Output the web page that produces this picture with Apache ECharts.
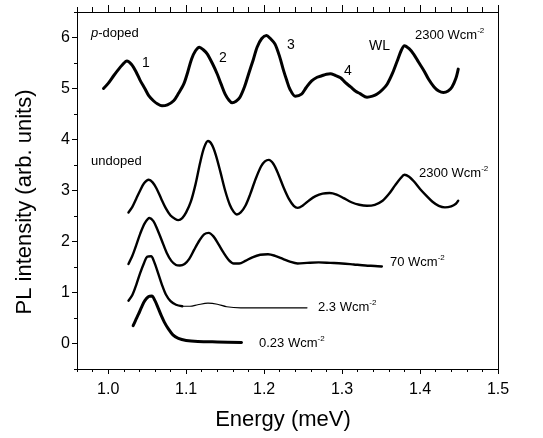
<!DOCTYPE html>
<html><head><meta charset="utf-8">
<script src="https://cdn.jsdelivr.net/npm/echarts@6/dist/echarts.min.js"></script>
<style>html,body{margin:0;padding:0;background:#fff}#c{width:543px;height:438px}</style>
</head><body><div id="c"></div>
<script>
// ---- data ----
const xTicks = [1.0, 1.1, 1.2, 1.3, 1.4, 1.5];
const yTicks = [0, 1, 2, 3, 4, 5, 6];

const pDoped = [
[0.994,5.00],[1.000,5.10],[1.007,5.25],[1.013,5.37],[1.018,5.46],[1.024,5.54],[1.030,5.47],[1.036,5.32],
[1.041,5.16],[1.047,5.00],[1.052,4.86],[1.058,4.76],[1.063,4.70],[1.069,4.66],[1.076,4.68],[1.084,4.76],
[1.090,4.90],[1.097,5.09],[1.102,5.32],[1.107,5.58],[1.112,5.74],[1.117,5.81],[1.122,5.76],[1.127,5.68],
[1.134,5.48],[1.140,5.28],[1.145,5.08],[1.150,4.89],[1.155,4.77],[1.159,4.72],[1.164,4.75],[1.169,4.83],
[1.175,5.04],[1.180,5.28],[1.186,5.56],[1.191,5.81],[1.197,5.98],[1.203,6.04],[1.208,5.98],[1.214,5.87],
[1.220,5.62],[1.225,5.35],[1.229,5.16],[1.233,4.99],[1.240,4.85],[1.248,4.89],[1.254,5.02],[1.261,5.15],
[1.268,5.22],[1.274,5.25],[1.280,5.28],[1.285,5.29],[1.291,5.26],[1.298,5.21],[1.304,5.12],[1.311,5.03],
[1.317,4.95],[1.323,4.90],[1.332,4.83],[1.339,4.85],[1.345,4.89],[1.352,4.98],[1.358,5.09],[1.365,5.31],
[1.371,5.55],[1.376,5.75],[1.380,5.84],[1.386,5.78],[1.392,5.67],[1.398,5.52],[1.405,5.35],[1.411,5.18],
[1.418,5.03],[1.424,4.95],[1.430,4.92],[1.436,4.95],[1.441,5.03],[1.446,5.20],[1.449,5.38]
];
const undoped2300 = [
[1.026,2.57],[1.031,2.68],[1.036,2.84],[1.041,3.00],[1.046,3.14],[1.052,3.21],[1.057,3.16],[1.062,3.04],
[1.068,2.84],[1.074,2.65],[1.080,2.51],[1.086,2.44],[1.090,2.42],[1.095,2.46],[1.100,2.57],[1.106,2.78],
[1.112,3.12],[1.118,3.55],[1.123,3.84],[1.128,3.97],[1.133,3.90],[1.138,3.70],[1.144,3.36],[1.150,3.00],
[1.156,2.72],[1.161,2.58],[1.165,2.53],[1.170,2.57],[1.176,2.70],[1.182,2.92],[1.189,3.22],[1.196,3.47],
[1.201,3.57],[1.206,3.60],[1.212,3.52],[1.218,3.33],[1.225,3.06],[1.232,2.83],[1.238,2.70],[1.243,2.66],
[1.250,2.71],[1.258,2.81],[1.266,2.89],[1.275,2.94],[1.284,2.95],[1.293,2.92],[1.302,2.85],[1.312,2.77],
[1.322,2.72],[1.332,2.70],[1.342,2.72],[1.352,2.80],[1.360,2.93],[1.368,3.10],[1.375,3.24],[1.380,3.31],
[1.386,3.27],[1.392,3.18],[1.400,3.03],[1.408,2.90],[1.416,2.78],[1.424,2.70],[1.432,2.67],[1.440,2.69],
[1.446,2.74],[1.449,2.80]
];
const undoped70 = [
[1.026,1.56],[1.031,1.72],[1.036,1.93],[1.041,2.15],[1.047,2.36],[1.053,2.46],[1.058,2.40],[1.063,2.24],
[1.069,2.01],[1.075,1.78],[1.081,1.62],[1.087,1.54],[1.092,1.53],[1.098,1.56],[1.104,1.66],[1.110,1.83],
[1.117,2.02],[1.123,2.14],[1.129,2.17],[1.135,2.10],[1.141,1.96],[1.148,1.78],[1.155,1.63],[1.161,1.57],
[1.168,1.57],[1.176,1.62],[1.185,1.69],[1.195,1.74],[1.205,1.75],[1.214,1.72],[1.224,1.66],[1.234,1.60],
[1.243,1.57],[1.255,1.58],[1.270,1.59],[1.285,1.58],[1.300,1.57],[1.315,1.55],[1.330,1.53],[1.342,1.52],
[1.351,1.51]
];
const undoped2_3 = [
[1.026,0.84],[1.031,0.95],[1.036,1.15],[1.041,1.38],[1.046,1.58],[1.050,1.70],[1.055,1.71],[1.059,1.60],
[1.064,1.38],[1.069,1.15],[1.074,0.96],[1.080,0.83],[1.087,0.76],[1.095,0.73],[1.105,0.73],[1.115,0.76],
[1.128,0.79],[1.140,0.77],[1.152,0.72],[1.170,0.70],[1.200,0.70],[1.230,0.70],[1.255,0.70]
];
const undoped0_23 = [
[1.032,0.35],[1.035,0.45],[1.039,0.58],[1.043,0.72],[1.047,0.84],[1.052,0.92],[1.056,0.93],[1.060,0.84],
[1.064,0.70],[1.068,0.55],[1.072,0.42],[1.077,0.29],[1.083,0.17],[1.090,0.10],[1.100,0.06],[1.115,0.04],
[1.140,0.03],[1.171,0.02]
];

// ---- chart ----
const FONT = '"Liberation Sans", Arial, Helvetica, sans-serif';
const G = {left:77, top:12, right:45, bottom:69};
const chart = echarts.init(document.getElementById('c'), null, {renderer:'canvas'});
const lineStyleAxis = {color:'#000', width:1};

function line(data, w){
  return {type:'line', data:data, xAxisIndex:0, yAxisIndex:0, showSymbol:false, smooth:0.3,
    lineStyle:{color:'#000', width:w, join:'round', cap:'round'}, animation:false, silent:true};
}
function wcm(txt){
  return '{a|' + txt + ' Wcm}{s|-2}';
}
const rich = {a:{fontSize:13, fontFamily:FONT, color:'#000'}, s:{fontSize:8, fontFamily:FONT, color:'#000', verticalAlign:'top', padding:[0,0,8,0]}};
function label(x, y, text, size){
  return {type:'text', left:x, top:y, style:{text:text, font:(size||14)+'px '+FONT, fill:'#000'}};
}
function ax(o){
  o.axisLine = Object.assign({onZero:false}, o.axisLine || {});
  return o;
}

chart.setOption({
  animation:false,
  backgroundColor:'#fff',
  grid:[Object.assign({}, G), Object.assign({}, G)],
  xAxis:[
    ax({gridIndex:0, type:'value', position:'bottom', min:0.96, max:1.5,
     axisLine:{show:true, lineStyle:lineStyleAxis},
     axisTick:{show:true, inside:false, length:5, customValues:xTicks, lineStyle:lineStyleAxis},
     axisLabel:{show:true, customValues:xTicks, formatter:v=>v.toFixed(1), fontSize:16, fontFamily:FONT, color:'#000', margin:13},
     splitLine:{show:false}}),
    ax({gridIndex:0, type:'value', position:'top', min:0.96, max:1.5,
     axisLine:{show:true, lineStyle:lineStyleAxis},
     axisTick:{show:true, inside:false, length:7, customValues:xTicks, lineStyle:lineStyleAxis},
     axisLabel:{show:false}, splitLine:{show:false}}),
    ax({gridIndex:1, type:'value', position:'bottom', min:0.96, max:1.5, interval:0.02,
     axisLine:{show:false}, axisTick:{show:true, inside:false, length:3, lineStyle:lineStyleAxis},
     axisLabel:{show:false}, splitLine:{show:false}}),
    ax({gridIndex:1, type:'value', position:'top', min:0.96, max:1.5, interval:0.02,
     axisLine:{show:false}, axisTick:{show:true, inside:false, length:5, lineStyle:lineStyleAxis},
     axisLabel:{show:false}, splitLine:{show:false}})
  ],
  yAxis:[
    ax({gridIndex:0, type:'value', position:'left', min:-0.5, max:6.5,
     axisLine:{show:true, lineStyle:lineStyleAxis},
     axisTick:{show:true, inside:false, length:5, customValues:yTicks, lineStyle:lineStyleAxis},
     axisLabel:{show:true, customValues:yTicks, fontSize:16, fontFamily:FONT, color:'#000', margin:7},
     splitLine:{show:false}}),
    ax({gridIndex:0, type:'value', position:'right', min:-0.5, max:6.5,
     axisLine:{show:true, lineStyle:lineStyleAxis}, axisTick:{show:false}, axisLabel:{show:false}, splitLine:{show:false}}),
    ax({gridIndex:1, type:'value', position:'left', min:-0.5, max:6.5, interval:0.5,
     axisLine:{show:false}, axisTick:{show:true, inside:false, length:3, lineStyle:lineStyleAxis},
     axisLabel:{show:false}, splitLine:{show:false}})
  ],
  series:[
    line(pDoped, 3),
    line(undoped2300, 2.4),
    line(undoped70, 2.4),
    line(undoped2_3.slice(0, 14), 2.4),
    line(undoped2_3.slice(13), 1.2),
    line(undoped0_23, 3)
  ],
  graphic:[
    {type:'text', left:91, top:27, style:{text:'{i|p}{n|-doped}', fill:'#000', rich:{i:{fontSize:13, fontStyle:'italic', fontFamily:FONT}, n:{fontSize:13, fontFamily:FONT}}}},
    label(142, 56, '1', 14),
    label(219, 51, '2', 14),
    label(287, 38, '3', 14),
    label(344, 64, '4', 14),
    label(369, 39, 'WL', 14),
    {type:'text', left:415, top:27, style:{text:wcm('2300'), rich:rich}},
    {type:'text', left:91, top:155, style:{text:'undoped', font:'13px '+FONT, fill:'#000'}},
    {type:'text', left:419, top:165, style:{text:wcm('2300'), rich:rich}},
    {type:'text', left:390, top:254, style:{text:wcm('70'), rich:rich}},
    {type:'text', left:318, top:299, style:{text:wcm('2.3'), rich:rich}},
    {type:'text', left:259, top:335, style:{text:wcm('0.23'), rich:rich}},
    {type:'text', x:283, y:420, style:{text:'Energy (meV)', font:'22px '+FONT, fill:'#000', align:'center', verticalAlign:'middle'}},
    {type:'text', x:25, y:202, rotation:Math.PI/2, style:{text:'PL intensity (arb. units)', font:'22px '+FONT, fill:'#000', align:'center', verticalAlign:'middle'}}
  ]
});
</script></body></html>
